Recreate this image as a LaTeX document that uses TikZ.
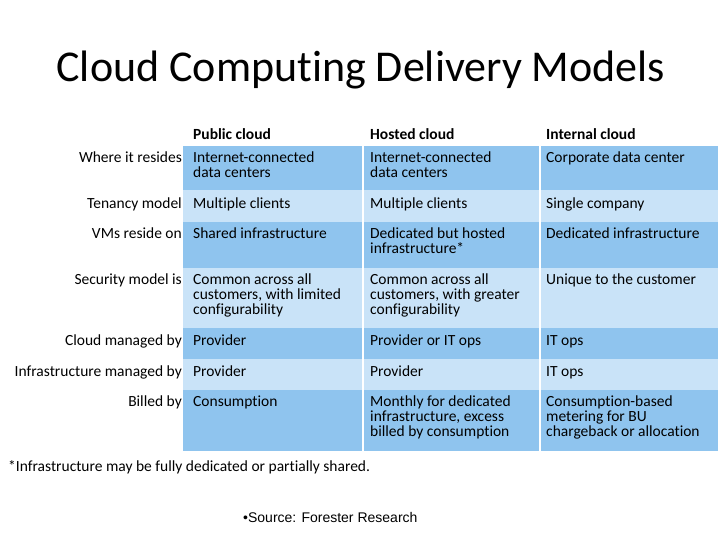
\documentclass[tikz,border=0pt]{standalone}
\usepackage{fontspec}
\setmainfont[Ligatures=NoCommon]{Carlito}
\newfontfamily\arialfont{Liberation Sans}
\definecolor{rowdark}{HTML}{8FC4EE}
\definecolor{rowlight}{HTML}{C9E3F8}
\tikzset{
  cell/.style={anchor=north west,align=left,inner sep=0pt,font=\fontsize{15.5}{15}\selectfont},
  rowlabel/.style={anchor=north east,align=right,inner sep=0pt,font=\fontsize{15.5}{15}\selectfont},
  colhead/.style={anchor=west,inner sep=0pt,font=\fontsize{15.5}{15}\selectfont\bfseries}
}
\begin{document}
\begin{tikzpicture}[x=1pt,y=-1pt]
	\useasboundingbox (0,0) rectangle (728,546);
	\node[anchor=west,font=\fontsize{44}{46}\selectfont] (title) at (53,70) {Cloud Computing Delivery Models};
	% row bands
	\fill[rowdark] (183,146) rectangle (718,190);
	\fill[rowlight] (183,190) rectangle (718,222);
	\fill[rowdark] (183,222) rectangle (718,268);
	\fill[rowlight] (183,268) rectangle (718,328);
	\fill[rowdark] (183,328) rectangle (718,359);
	\fill[rowlight] (183,359) rectangle (718,390);
	\fill[rowdark] (183,390) rectangle (718,451);
	\draw[white,line width=1.5pt] (363,146) -- (363,451) (540,146) -- (540,451);
	% column heads
	\node[colhead] (pub) at (193,134) {Public cloud};
	\node[colhead] (hos) at (370,134) {Hosted cloud};
	\node[colhead] (int) at (546,134) {Internal cloud};
	% rows
	\foreach \y/\lab/\a/\b/\c in {
	  152/Where it resides/{Internet-connected\\data centers}/{Internet-connected\\data centers}/{Corporate data center},
	  198/Tenancy model/Multiple clients/Multiple clients/Single company,
	  228/VMs reside on/Shared infrastructure/{Dedicated but hosted\\infrastructure*}/Dedicated infrastructure,
	  274/Security model is/{Common across all\\customers, with limited\\configurability}/{Common across all\\customers, with greater\\configurability}/Unique to the customer,
	  335/Cloud managed by/Provider/Provider or IT ops/IT ops,
	  366/Infrastructure managed by/Provider/Provider/IT ops,
	  396/Billed by/Consumption/{Monthly for dedicated\\infrastructure, excess\\billed by consumption}/{Consumption-based\\metering for BU\\chargeback or allocation}}{
	  \node[rowlabel] (lab\y) at (182,\y) {\lab};
	  \node[cell] (pub\y) at (193,\y) {\a};
	  \node[cell] (hos\y) at (370,\y) {\b};
	  \node[cell] (int\y) at (546,\y) {\c};
	}
	\node[anchor=west,inner sep=0pt,font=\fontsize{15.5}{15}\selectfont] (note) at (8,467) {*Infrastructure may be fully dedicated or partially shared.};
	\node[anchor=west,inner sep=0pt,font=\arialfont\fontsize{14}{16}\selectfont] (src) at (243,517) {\textbullet Source: Forester Research};
\end{tikzpicture}
\end{document}
